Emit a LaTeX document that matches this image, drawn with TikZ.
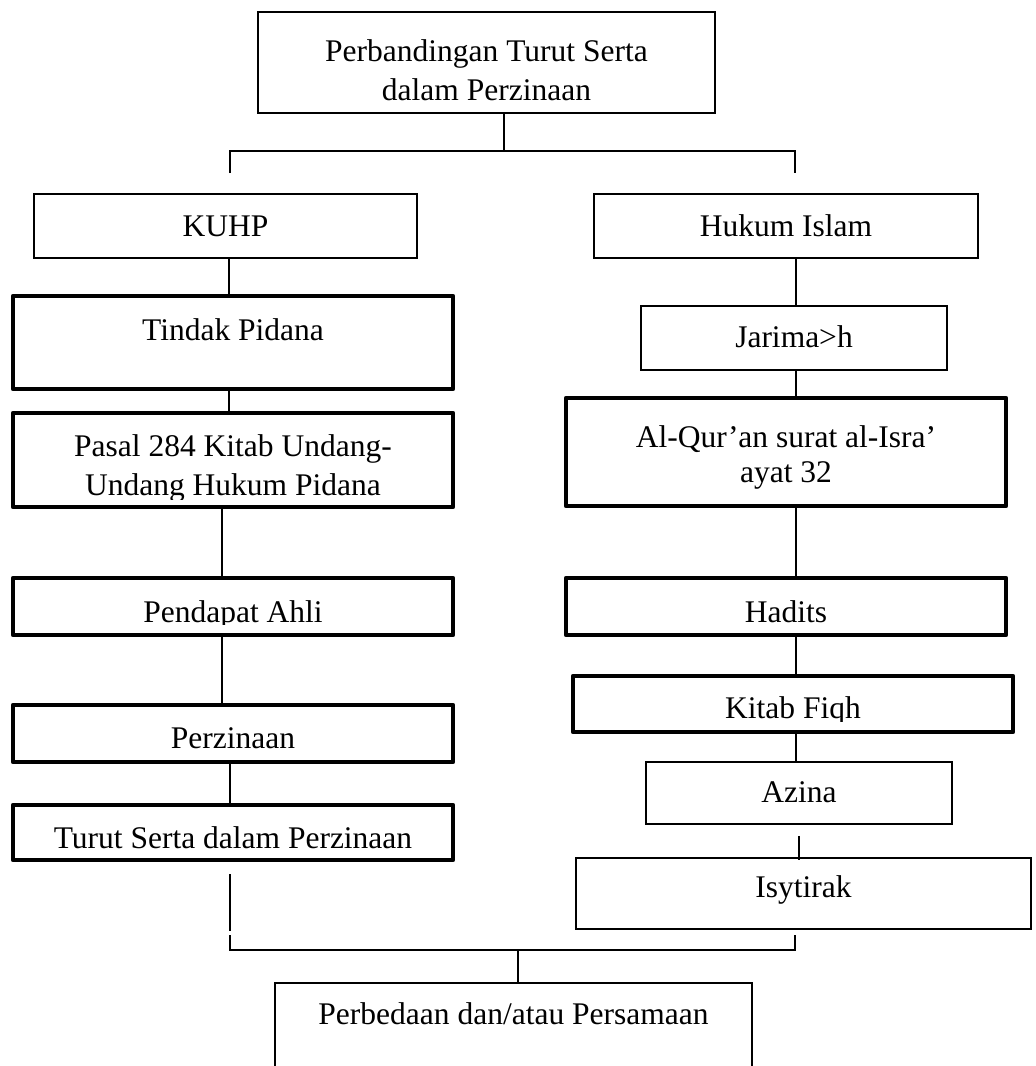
\documentclass[tikz,border=0pt]{standalone}
\usepackage{fontspec}
\setmainfont{Liberation Serif}
\usepackage{tikz}
\usetikzlibrary{calc}
\definecolor{InkBlack}{HTML}{000000}

\begin{document}
\begin{tikzpicture}[x=1pt, y=-1pt,
    thinbox/.style={draw=InkBlack, line width=1.8pt, inner sep=0pt},
    thickbox/.style={draw=InkBlack, line width=4.8pt, line join=round, inner sep=0pt},
    txt/.style={anchor=base, inner sep=0pt, align=center, text=InkBlack,
                font=\fontsize{31.5}{39}\selectfont},
    link/.style={draw=InkBlack, line width=1.8pt}]
  \useasboundingbox (0,0) rectangle (1036,1066);

  \node[thinbox, minimum width=457, minimum height=101] (top) at (486.5,62.5) {};
  \node[txt] (top-t) at (486.5,100) {Perbandingan Turut Serta\\dalam Perzinaan};

  \node[thinbox, minimum width=383, minimum height=64] (kuhp) at (225.5,226) {};
  \node[txt] (kuhp-t) at (225.5,236) {KUHP};
  \node[thinbox, minimum width=384, minimum height=64] (hukum) at (786,226) {};
  \node[txt] (hukum-t) at (786,236) {Hukum Islam};

  \node[thickbox, minimum width=440, minimum height=93] (tindak) at (233,342.5) {};
  \node[txt] (tindak-t) at (233,340) {Tindak Pidana};
  \node[thickbox, minimum width=440, minimum height=94] (pasal) at (233,460) {};
  \begin{scope}
    \clip (pasal.north west) rectangle ($(pasal.south east)+(0,-10)$);
    \node[txt] (pasal-t) at (233,495) {Pasal 284 Kitab Undang-\\Undang Hukum Pidana};
  \end{scope}
  \node[thickbox, minimum width=440, minimum height=57] (pendapat) at (233,606.5) {};
  \begin{scope}
    \clip (pendapat.north west) rectangle ($(pendapat.south east)+(0,-13)$);
    \node[txt] (pendapat-t) at (233,622) {Pendapat Ahli};
  \end{scope}
  \node[thickbox, minimum width=440, minimum height=57] (perzinaan) at (233,733.5) {};
  \node[txt] (perzinaan-t) at (233,748) {Perzinaan};
  \node[thickbox, minimum width=440, minimum height=55] (turut) at (233,832.5) {};
  \node[txt] (turut-t) at (233,848) {Turut Serta dalam Perzinaan};

  \node[thinbox, minimum width=306, minimum height=64] (jarima) at (794,338) {};
  \node[txt] (jarima-t) at (794,347) {Jarima>h};
  \node[thickbox, minimum width=440, minimum height=108] (alquran) at (786,452) {};
  \node[txt] (alquran-t) at (786,482) {Al-Qur’an surat al-Isra’\\[-4pt]ayat 32};
  \node[thickbox, minimum width=440, minimum height=57] (hadits) at (786,606.5) {};
  \node[txt] (hadits-t) at (786,622) {Hadits};
  \node[thickbox, minimum width=440, minimum height=56] (fiqh) at (793,704) {};
  \begin{scope}
    \clip (fiqh.north west) rectangle ($(fiqh.south east)+(0,-13)$);
    \node[txt] (fiqh-t) at (793,718) {Kitab Fiqh};
  \end{scope}
  \node[thinbox, minimum width=306, minimum height=62] (azina) at (799,793) {};
  \node[txt] (azina-t) at (799,802) {Azina};
  \node[thinbox, minimum width=455, minimum height=71] (isytirak) at (803.5,893.5) {};
  \node[txt] (isytirak-t) at (803.5,897) {Isytirak};

  \node[thinbox, minimum width=477, minimum height=117] (beda) at (513.5,1041.5) {};
  \node[txt] (beda-t) at (513.5,1024) {Perbedaan dan/atau Persamaan};

  \coordinate (split) at (504,151);
  \coordinate (lfoot) at (230,173);
  \coordinate (rfoot) at (795,173);
  \coordinate (lx) at (229,0);
  \coordinate (lx2) at (222,0);
  \coordinate (rx) at (796,0);
  \coordinate (rx2) at (799,0);
  \coordinate (lstub) at (230,935);
  \coordinate (rstub) at (795,935);
  \coordinate (join) at (518,950);

  \draw[link] (top.south -| split) -- (split);
  \draw[link] (lfoot) |- (split) -| (rfoot);

  \draw[link] (kuhp.south -| lx) -- (tindak.north -| lx);
  \draw[link] (tindak.south -| lx) -- (pasal.north -| lx);
  \draw[link] (pasal.south -| lx2) -- (pendapat.north -| lx2);
  \draw[link] (pendapat.south -| lx2) -- (perzinaan.north -| lx2);
  \draw[link] (perzinaan.south -| lfoot) -- (turut.north -| lfoot);
  \draw[link] ($(turut.south -| lfoot)+(0,12)$) -- ++(0,57);

  \draw[link] (hukum.south -| rx) -- (jarima.north -| rx);
  \draw[link] (jarima.south -| rx) -- (alquran.north -| rx);
  \draw[link] (alquran.south -| rx) -- (hadits.north -| rx);
  \draw[link] (hadits.south -| rx) -- (fiqh.north -| rx);
  \draw[link] (fiqh.south -| rx) -- (azina.north -| rx);
  \draw[link] ($(azina.south -| rx2)+(0,11)$) -- ($(isytirak.north -| rx2)+(0,3)$);

  \draw[link] (lstub) |- (join) -| (rstub);
  \draw[link] (join) -- (beda.north -| join);
\end{tikzpicture}
\end{document}
